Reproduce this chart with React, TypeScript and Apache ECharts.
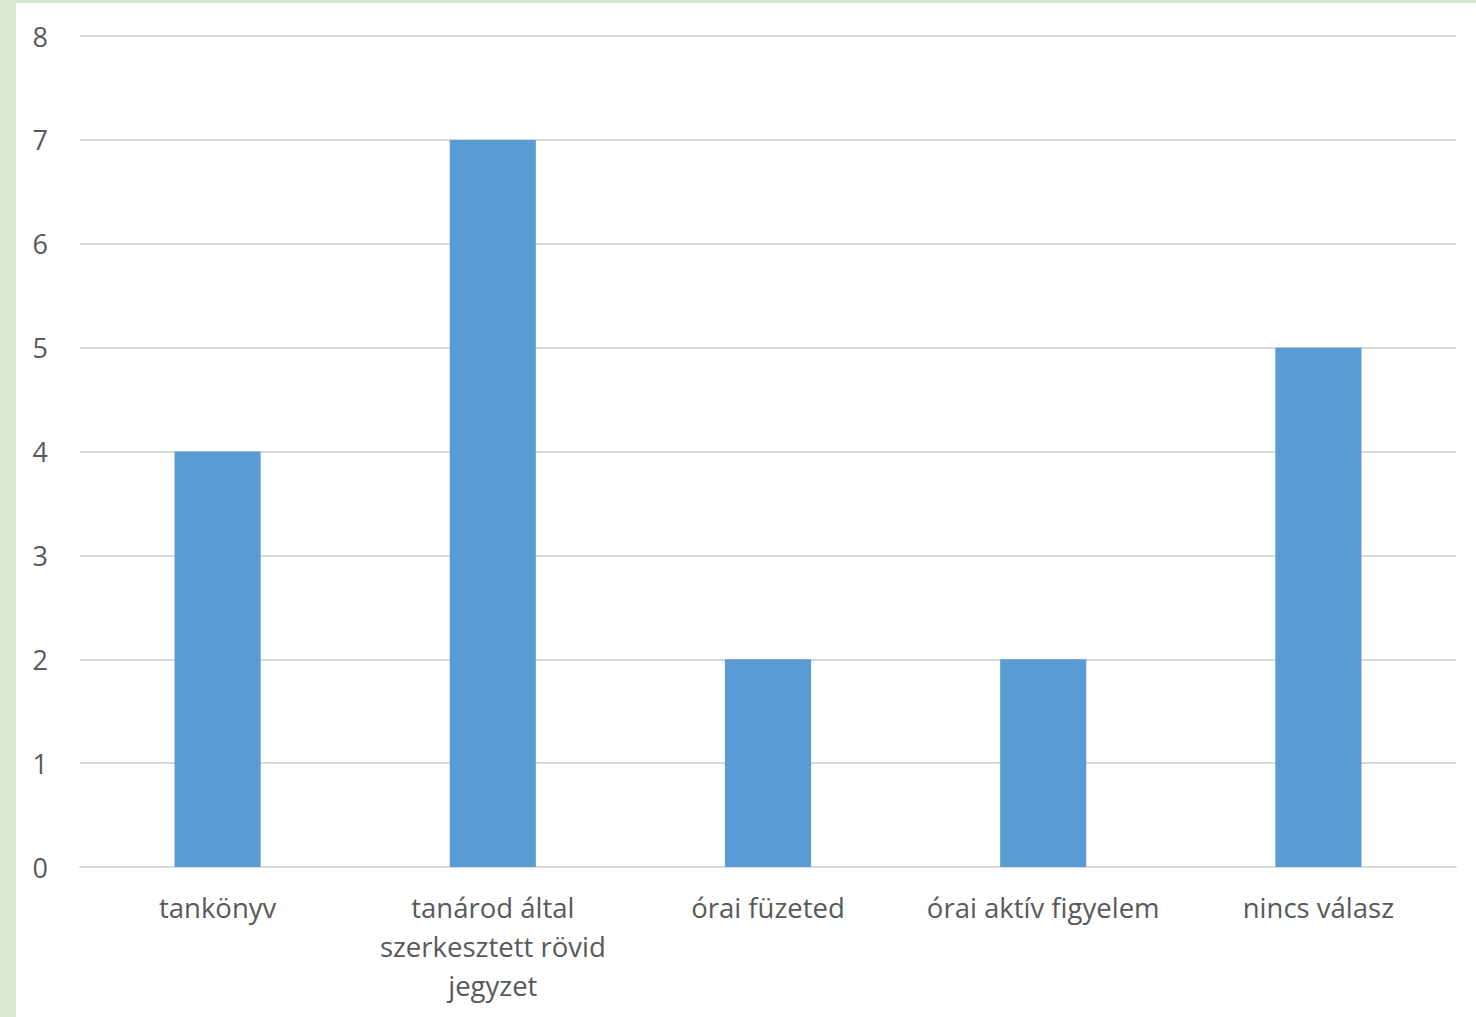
import React, { useEffect, useRef } from "react";
import * as echarts from "echarts";

const categories = [
  "tankönyv",
  "tanárod által\nszerkesztett rövid\njegyzet",
  "órai füzeted",
  "órai aktív figyelem",
  "nincs válasz",
];
const values = [4, 7, 2, 2, 5];

export default function App() {
  const ref = useRef<HTMLDivElement>(null);
  useEffect(() => {
    const chart = echarts.init(ref.current!, undefined, { renderer: "svg" });
    chart.setOption({
      animation: false,
      grid: { left: 64, right: 20, top: 33, bottom: 150 },
      xAxis: {
        type: "category",
        data: categories,
        axisLine: { show: true, lineStyle: { color: "#d9d9d9", width: 2 } },
        axisTick: { show: false },
        axisLabel: {
          interval: 0,
          color: "#595959",
          fontSize: 27.5,
          fontFamily: "Open Sans",
          lineHeight: 39,
          margin: 21,
        },
      },
      yAxis: {
        type: "value",
        min: 0,
        max: 8,
        interval: 1,
        axisLine: { show: false },
        axisTick: { show: false },
        splitLine: { lineStyle: { color: "#d9d9d9", width: 2 } },
        axisLabel: {
          color: "#595959",
          fontSize: 27,
          fontFamily: "Open Sans",
          margin: 32,
        },
      },
      series: [
        {
          type: "bar",
          data: values,
          barWidth: "31.3%",
          itemStyle: { color: "#5b9bd5" },
        },
      ],
    });
    return () => chart.dispose();
  }, []);
  return (
    <div
      style={{
        position: "fixed",
        left: 0,
        top: 0,
        width: 1476,
        height: 1017,
        background: "#dae6cf",
      }}
    >
      <div
        ref={ref}
        style={{
          position: "absolute",
          left: 16,
          top: 3,
          width: 1460,
          height: 1014,
          background: "#ffffff",
        }}
      />
    </div>
  );
}
